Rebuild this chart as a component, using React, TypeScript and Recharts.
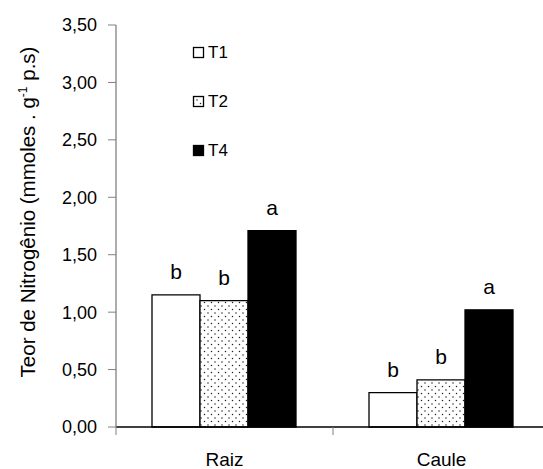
import React from "react";
import { BarChart, Bar, XAxis, YAxis, LabelList } from "recharts";

// Plant parts on the category axis
const categories = ["Raiz", "Caule"];

// Nitrogen content per treatment (mmoles . g-1 p.s)
const t1Values = [1.15, 0.3];
const t2Values = [1.1, 0.41];
const t4Values = [1.71, 1.02];

// Significance letters drawn above each bar
const t1Letters = ["b", "b"];
const t2Letters = ["b", "b"];
const t4Letters = ["a", "a"];

const seriesNames = ["T1", "T2", "T4"];
const yTicks = [0, 0.5, 1, 1.5, 2, 2.5, 3, 3.5];

const data = categories.map((name, i) => ({
  name,
  T1: t1Values[i],
  T2: t2Values[i],
  T4: t4Values[i],
  l1: t1Letters[i],
  l2: t2Letters[i],
  l4: t4Letters[i],
}));

const FONT = "'Liberation Sans', Arial, sans-serif";

const formatTick = (v: number) => v.toFixed(2).replace(".", ",");

const DotPattern = ({ id }: { id: string }) => (
  <pattern id={id} width={7} height={7} patternUnits="userSpaceOnUse">
    <rect width={7} height={7} fill="#fff" />
    <circle cx={1.5} cy={1.5} r={0.75} fill="#222" />
    <circle cx={5} cy={5} r={0.75} fill="#222" />
  </pattern>
);

// Category label plus a tick mark at the left edge of each band
const CategoryTick = (props: any) => {
  const { x, y, payload, index } = props;
  const half = payload && payload.offset ? payload.offset : 108.5;
  const edge = x - half;
  return (
    <g>
      <line x1={edge} y1={y - 8} x2={edge} y2={y} stroke="#808080" strokeWidth={1} />
      {index === categories.length - 1 && (
        <line x1={x + half} y1={y - 8} x2={x + half} y2={y} stroke="#808080" strokeWidth={1} />
      )}
      <text
        x={x}
        y={y + 31}
        textAnchor="middle"
        fontFamily={FONT}
        fontSize={19}
        fill="#000"
      >
        {payload.value}
      </text>
    </g>
  );
};

const YTitle = () => (
  <text
    x={35}
    y={212}
    transform="rotate(-90, 35, 212)"
    textAnchor="middle"
    fontFamily={FONT}
    fontSize={20.5}
    fill="#000"
  >
    Teor de Nitrogênio (mmoles . g
    <tspan fontSize={12} dy={-8}>-1</tspan>
    <tspan dy={8}> p.s)</tspan>
  </text>
);

const legendFills = ["#fff", "url(#dotsLegend)", "#000"];

const LegendBox = () => (
  <div
    style={{
      position: "absolute",
      left: 192,
      top: 28,
      fontFamily: FONT,
      fontSize: 17,
      color: "#000",
    }}
  >
    {seriesNames.map((label, i) => (
      <div key={label} style={{ display: "flex", alignItems: "center", height: 49 }}>
        <svg width={14} height={14} style={{ marginRight: 2 }}>
          <defs>
            <DotPattern id="dotsLegend" />
          </defs>
          <rect x={1.5} y={1.5} width={10} height={10} fill={legendFills[i]} stroke="#000" strokeWidth={1.3} />
        </svg>
        <span>{label}</span>
      </div>
    ))}
  </div>
);

export default function App() {
  return (
    <div
      style={{
        position: "absolute",
        left: 0,
        top: 0,
        width: 543,
        height: 469,
        overflow: "hidden",
        background: "#fff",
      }}
    >
      <BarChart
        width={560}
        height={469}
        data={data}
        margin={{ top: 25, right: 10, left: 0, bottom: 0 }}
        barCategoryGap={36}
        barGap={0}
      >
        <defs>
          <DotPattern id="dotsBar" />
        </defs>
        <XAxis
          dataKey="name"
          height={42}
          axisLine={{ stroke: "#000", strokeWidth: 1.3 }}
          tickLine={false}
          tick={<CategoryTick />}
          interval={0}
        />
        <YAxis
          width={116}
          domain={[0, 3.5]}
          ticks={yTicks}
          tickFormatter={formatTick}
          axisLine={{ stroke: "#808080", strokeWidth: 1.3 }}
          tickLine={{ stroke: "#808080", strokeWidth: 1 }}
          tickSize={8}
          tickMargin={11}
          tick={{ fontFamily: FONT, fontSize: 18, fill: "#000" }}
          label={<YTitle />}
        />
        <Bar dataKey="T1" fill="#fff" stroke="#000" strokeWidth={1.3} isAnimationActive={false}>
          <LabelList dataKey="l1" position="top" offset={16} fontFamily={FONT} fontSize={21} fill="#000" />
        </Bar>
        <Bar dataKey="T2" fill="url(#dotsBar)" stroke="#000" strokeWidth={1.3} isAnimationActive={false}>
          <LabelList dataKey="l2" position="top" offset={16} fontFamily={FONT} fontSize={21} fill="#000" />
        </Bar>
        <Bar dataKey="T4" fill="#000" stroke="#000" strokeWidth={1.3} isAnimationActive={false}>
          <LabelList dataKey="l4" position="top" offset={16} fontFamily={FONT} fontSize={21} fill="#000" />
        </Bar>
      </BarChart>
      <LegendBox />
    </div>
  );
}
